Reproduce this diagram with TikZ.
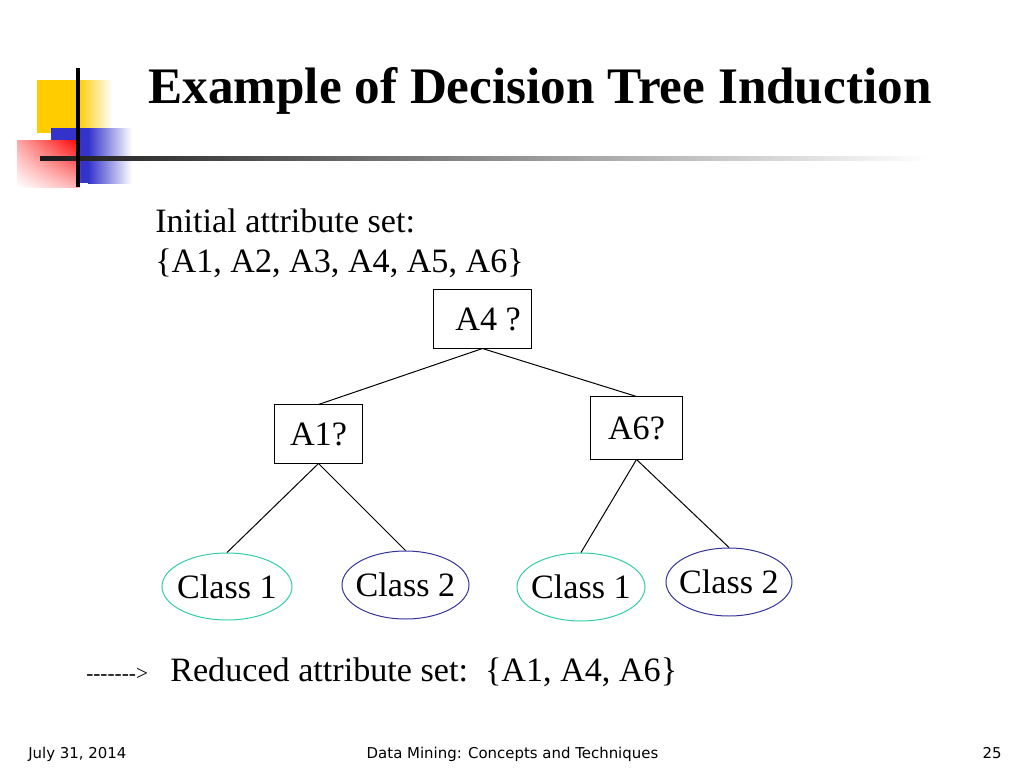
\documentclass[tikz,border=0pt]{standalone}
\usepackage{fontspec}
\setmainfont{Liberation Serif}
\newfontfamily\footfont{DejaVu Sans}
\usetikzlibrary{shapes.geometric,shadings}

\definecolor{decoyellow}{RGB}{255,204,0}
\definecolor{decoblue}{RGB}{51,51,204}
\definecolor{classone}{RGB}{51,204,170}
\definecolor{classtwo}{RGB}{51,51,153}

\begin{document}
\begin{tikzpicture}[x=0.703pt, y=-0.703pt,
          attr/.style={draw, rectangle, line width=0.7pt, inner sep=0pt, font=\fontsize{24}{28}\selectfont},
          leaf/.style={draw, ellipse, line width=0.7pt, inner xsep=-4pt, inner ysep=0pt, text=black, font=\fontsize{24}{28}\selectfont},
          edge/.style={black, line width=0.7pt},
          body/.style={anchor=base west, inner sep=0pt, font=\fontsize{24}{28}\selectfont},
          foot/.style={inner sep=0pt, font=\footfont\fontsize{10.5}{12}\selectfont}
        ]
          \useasboundingbox (0,0) rectangle (1024,768);

          % Titelschmuck
          \fill[decoyellow] (37,80) rectangle (78,133);
          \shade[left color=decoyellow, right color=white] (78,80) rectangle (112,133);
          \fill[decoblue] (51,128) rectangle (88,183);
          \shade[left color=decoblue, right color=white] (88,128) rectangle (132,183);
          \shade[upper left=red!35, upper right=red, lower left=white, lower right=red!30] (17,140) rectangle (80,187);
          \shade[left color=black!90, middle color=black!60, right color=white] (40,156) rectangle (930,160);
          \draw[line width=2.6pt] (78,68) -- (78,187);

          % Titel
          \node[anchor=base west, inner sep=0pt, font=\bfseries\fontsize{36}{40}\selectfont] (title) at (148,103) {Example of Decision Tree Induction};

          % Attributmenge
          \node[body] (init1) at (155,232) {Initial attribute set:};
          \node[body] (init2) at (155,272) {\{A1, A2, A3, A4, A5, A6\}};

          % Knoten
          \node[attr, minimum width=68.2pt, minimum height=40.8pt] (a4) at (482.5,319) {\hspace{8pt}A4 ?};
          \node[attr, minimum width=61.2pt, minimum height=40.8pt] (a1) at (318.5,434) {A1?};
          \node[attr, minimum width=64pt, minimum height=43.6pt] (a6) at (636.5,428) {A6?};

          % Blaetter
          \node[leaf, draw=classone, minimum width=91.4pt, minimum height=47.1pt] (c1a) at (227,586.5) {Class 1};
          \node[leaf, draw=classtwo, minimum width=89.3pt, minimum height=47.8pt] (c2a) at (405.5,585) {Class 2};
          \node[leaf, draw=classone, minimum width=90pt, minimum height=47.8pt] (c1b) at (581,587) {Class 1};
          \node[leaf, draw=classtwo, minimum width=88.6pt, minimum height=47.8pt] (c2b) at (729,582) {Class 2};

          % Kanten
          \draw[edge] (a4.south) -- (a1.north);
          \draw[edge] (a4.south) -- (a6.north);
          \draw[edge] (a1.south) -- (c1a.north);
          \draw[edge] (a1.south) -- (c2a.north);
          \draw[edge] (a6.south) -- (c1b.north);
          \draw[edge] (a6.south) -- (c2b.north);

          % Ergebnis
          \node[anchor=base west, inner sep=0pt, font=\fontsize{15}{18}\selectfont] (hint) at (86,680) {-{}-{}-{}-{}-{}-{}-\textgreater};
          \node[body] (reduced) at (170,681) {Reduced attribute set:\ \ \{A1, A4, A6\}};

          % Fusszeile
          \node[foot, anchor=base west] (date) at (28,758) {July 31, 2014};
          \node[foot, anchor=base] (course) at (512.5,758) {Data Mining: Concepts and Techniques};
          \node[foot, anchor=base east] (page) at (1002,758) {25};
        \end{tikzpicture}
\end{document}
